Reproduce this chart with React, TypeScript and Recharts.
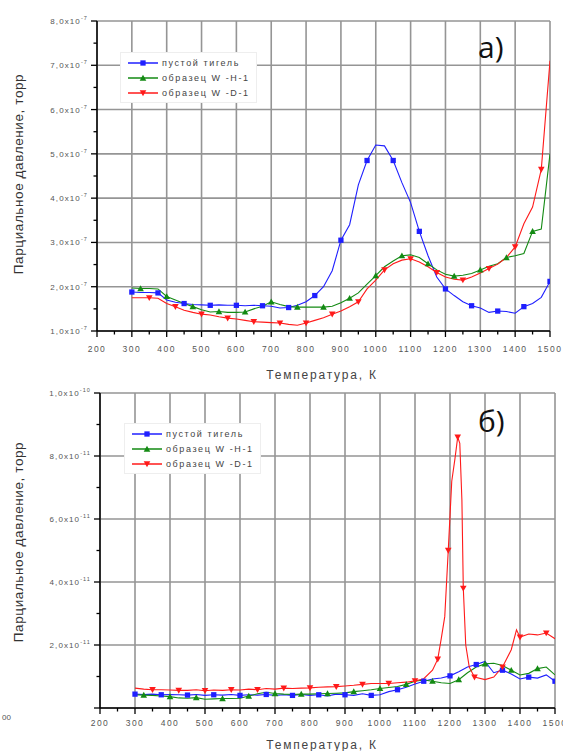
import React from 'react';
import { LineChart, Line, XAxis, YAxis, CartesianGrid, Legend } from 'recharts';

const BLUE = '#1f1fff';
const GREEN = '#138a13';
const RED = '#ff1a1a';
const GRID = '#959595';
const TXT = '#555';
const FONT = '"Liberation Sans", Arial, sans-serif';

const LEGEND_NAMES = ['пустой тигель', 'образец W -H-1', 'образец W -D-1'];

const X_MAJOR = [200, 300, 400, 500, 600, 700, 800, 900, 1000, 1100, 1200, 1300, 1400, 1500];
const X_MINOR = [250, 350, 450, 550, 650, 750, 850, 950, 1050, 1150, 1250, 1350, 1450];

// a) units of 1e-7 torr
const TOP_Y_MAJOR = [1, 2, 3, 4, 5, 6, 7, 8];
const TOP_Y_MINOR = [1.5, 2.5, 3.5, 4.5, 5.5, 6.5, 7.5];

// б) units of 1e-11 torr
const BOT_Y_MAJOR = [0, 2, 4, 6, 8, 10];
const BOT_Y_MINOR = [1, 3, 5, 7, 9];

const topBlue: [number, number][] = [
  [300, 1.88], [325, 1.87], [350, 1.87], [375, 1.86], [400, 1.70], [425, 1.65], [450, 1.62], [475, 1.60],
  [500, 1.59], [525, 1.58], [550, 1.59], [575, 1.58], [600, 1.58], [625, 1.57], [650, 1.58], [675, 1.57],
  [700, 1.56], [725, 1.52], [750, 1.53], [775, 1.58], [800, 1.66], [825, 1.80], [850, 2.00], [875, 2.36],
  [900, 3.05], [925, 3.40], [950, 4.30], [975, 4.85], [1000, 5.20], [1025, 5.18], [1050, 4.85], [1075, 4.35],
  [1100, 3.90], [1125, 3.25], [1150, 2.70], [1175, 2.22], [1200, 1.95], [1225, 1.80], [1250, 1.66], [1275, 1.57],
  [1300, 1.52], [1325, 1.42], [1350, 1.45], [1375, 1.44], [1400, 1.40], [1425, 1.55], [1450, 1.62], [1475, 1.76],
  [1500, 2.12],
];

const topGreen: [number, number][] = [
  [300, 1.97], [325, 1.96], [350, 1.96], [375, 1.95], [400, 1.78], [425, 1.70], [450, 1.62], [475, 1.55],
  [500, 1.48], [525, 1.43], [550, 1.44], [575, 1.42], [600, 1.42], [625, 1.43], [650, 1.50], [675, 1.56],
  [700, 1.66], [725, 1.60], [750, 1.55], [775, 1.54], [800, 1.54], [825, 1.54], [850, 1.54], [875, 1.56],
  [900, 1.64], [925, 1.74], [950, 1.86], [975, 2.06], [1000, 2.25], [1025, 2.45], [1050, 2.58], [1075, 2.70],
  [1100, 2.72], [1125, 2.66], [1150, 2.52], [1175, 2.38], [1200, 2.28], [1225, 2.24], [1250, 2.26], [1275, 2.30],
  [1300, 2.38], [1325, 2.46], [1350, 2.52], [1375, 2.66], [1400, 2.70], [1425, 2.75], [1450, 3.25], [1475, 3.30],
  [1500, 5.00],
];

const topRed: [number, number][] = [
  [300, 1.75], [325, 1.75], [350, 1.75], [375, 1.74], [400, 1.62], [425, 1.55], [450, 1.47], [475, 1.42],
  [500, 1.38], [525, 1.36], [550, 1.32], [575, 1.29], [600, 1.27], [625, 1.24], [650, 1.21], [675, 1.20],
  [700, 1.19], [725, 1.18], [750, 1.15], [775, 1.13], [800, 1.18], [825, 1.24], [850, 1.30], [875, 1.38],
  [900, 1.45], [925, 1.55], [950, 1.66], [975, 1.95], [1000, 2.15], [1025, 2.38], [1050, 2.52], [1075, 2.60],
  [1100, 2.63], [1125, 2.56], [1150, 2.45], [1175, 2.32], [1200, 2.22], [1225, 2.17], [1250, 2.15], [1275, 2.22],
  [1300, 2.31], [1325, 2.41], [1350, 2.51], [1375, 2.66], [1400, 2.90], [1425, 3.42], [1450, 3.80], [1475, 4.65],
  [1500, 7.10],
];

const botBlue: [number, number][] = [
  [300, 0.44], [325, 0.43], [350, 0.44], [375, 0.42], [400, 0.43], [425, 0.42], [450, 0.41], [475, 0.43],
  [500, 0.40], [525, 0.42], [550, 0.41], [575, 0.43], [600, 0.40], [625, 0.42], [650, 0.41], [675, 0.43],
  [700, 0.40], [725, 0.42], [750, 0.40], [775, 0.43], [800, 0.40], [825, 0.42], [850, 0.38], [875, 0.44],
  [900, 0.42], [925, 0.40], [950, 0.45], [975, 0.40], [1000, 0.42], [1025, 0.52], [1050, 0.58], [1075, 0.66],
  [1100, 0.76], [1125, 0.85], [1150, 0.92], [1175, 0.95], [1200, 1.02], [1225, 1.15], [1250, 1.30], [1275, 1.38],
  [1300, 1.48], [1325, 1.12], [1350, 1.20], [1375, 1.08], [1400, 0.92], [1425, 0.98], [1450, 0.95], [1475, 1.05],
  [1500, 0.85],
];

const botGreen: [number, number][] = [
  [300, 0.42], [325, 0.41], [350, 0.40], [375, 0.38], [400, 0.36], [425, 0.32], [450, 0.31], [475, 0.33],
  [500, 0.28], [525, 0.29], [550, 0.30], [575, 0.30], [600, 0.31], [625, 0.38], [650, 0.45], [675, 0.50],
  [700, 0.46], [725, 0.44], [750, 0.43], [775, 0.44], [800, 0.44], [825, 0.45], [850, 0.46], [875, 0.47],
  [900, 0.48], [925, 0.52], [950, 0.55], [975, 0.58], [1000, 0.62], [1025, 0.65], [1050, 0.68], [1075, 0.75],
  [1100, 0.85], [1125, 0.89], [1150, 0.85], [1175, 0.80], [1200, 0.78], [1225, 0.90], [1250, 1.12], [1275, 1.30],
  [1300, 1.40], [1325, 1.42], [1350, 1.35], [1375, 1.20], [1400, 1.05], [1425, 1.10], [1450, 1.25], [1475, 1.30],
  [1500, 1.05],
];

const botRed: [number, number][] = [
  [300, 0.63], [325, 0.60], [350, 0.58], [375, 0.58], [400, 0.57], [425, 0.56], [450, 0.56], [475, 0.58],
  [500, 0.55], [525, 0.57], [550, 0.56], [575, 0.58], [600, 0.57], [625, 0.60], [650, 0.58], [675, 0.62],
  [700, 0.60], [725, 0.63], [750, 0.62], [775, 0.63], [800, 0.64], [825, 0.66], [850, 0.67], [875, 0.68],
  [900, 0.70], [925, 0.72], [950, 0.75], [975, 0.78], [1000, 0.78], [1025, 0.78], [1050, 0.80], [1075, 0.82],
  [1100, 0.86], [1125, 0.93], [1150, 1.20], [1165, 1.55], [1175, 2.20], [1185, 2.90], [1195, 5.00], [1205, 7.20],
  [1214, 7.90], [1222, 8.60], [1228, 8.40], [1234, 6.60], [1238, 3.80], [1245, 2.00], [1255, 1.30], [1270, 0.98],
  [1300, 0.90], [1325, 0.98], [1350, 1.30], [1375, 1.85], [1390, 2.48], [1400, 2.25], [1425, 2.35], [1450, 2.32],
  [1475, 2.38], [1500, 2.20],
];

const toRows = (s: [number, number][]) => s.map(([t, v]) => ({ t, v }));

type Shape = 'square' | 'up' | 'down';

function Marker({ cx, cy, shape, color, size = 3.3 }: { cx: number; cy: number; shape: Shape; color: string; size?: number }) {
  if (shape === 'square') return <rect x={cx - size * 0.8} y={cy - size * 0.8} width={size * 1.6} height={size * 1.6} fill={color} />;
  const s = size;
  if (shape === 'up') return <polygon points={`${cx},${cy - s} ${cx - s},${cy + s * 0.8} ${cx + s},${cy + s * 0.8}`} fill={color} />;
  return <polygon points={`${cx},${cy + s} ${cx - s},${cy - s * 0.8} ${cx + s},${cy - s * 0.8}`} fill={color} />;
}

const mkDot = (shape: Shape, color: string, every: number, offset: number) => (p: any) => {
  const { cx, cy, index } = p;
  if (cx == null || cy == null || index % every !== offset) return <g key={`d${index}`} />;
  return <g key={`d${index}`}><Marker cx={cx} cy={cy} shape={shape} color={color} /></g>;
};

const sup = (exp: string) => (
  <tspan dy={-4} fontSize={5.5}>{exp}</tspan>
);

const mkYTick = (majors: number[], fmt: (v: number) => [string, string] | null) => (p: any) => {
  const { x, y, payload } = p;
  const v = payload.value;
  const major = majors.includes(v);
  const lab = major ? fmt(v) : null;
  return (
    <g>
      <line x1={x} x2={x - (major ? 6 : 3.5)} y1={y} y2={y} stroke="#000" strokeWidth={1.3} />
      {lab && (
        <text x={x - 9} y={y + 3} textAnchor="end" fill={TXT} fontSize={8} fontFamily={FONT} letterSpacing={1.1}>
          {lab[0]}{sup(lab[1])}
        </text>
      )}
    </g>
  );
};

const mkXTick = (gap: number) => (p: any) => {
  const { x, y, payload } = p;
  const major = X_MAJOR.includes(payload.value);
  return (
    <g>
      <line x1={x} x2={x} y1={y} y2={y + (major ? 6 : 3.5)} stroke="#000" strokeWidth={1.3} />
      {major && (
        <text x={x} y={y + gap} textAnchor="middle" fill={TXT} fontSize={8.5} fontFamily={FONT} letterSpacing={1.5}>
          {payload.value}
        </text>
      )}
    </g>
  );
};

const topFmt = (v: number): [string, string] => [`${v},0x10`, '-7'];
const botFmt = (v: number): [string, string] | null =>
  v === 0 ? null : v === 10 ? ['1,0x10', '-10'] : [`${v},0x10`, '-11'];

const LegendBox = ({ left, top }: { left: number; top: number }) => {
  const items: [string, string, Shape][] = [
    [LEGEND_NAMES[0], BLUE, 'square'],
    [LEGEND_NAMES[1], GREEN, 'up'],
    [LEGEND_NAMES[2], RED, 'down'],
  ];
  return (
    <div style={{ position: 'absolute', left, top, background: '#fff', border: '1px solid #eee', padding: '2px 6px 2px 6px' }}>
      {items.map(([name, color, shape]) => (
        <div key={name} style={{ display: 'flex', alignItems: 'center', height: 15 }}>
          <svg width={32} height={10}>
            <line x1={1} x2={31} y1={5} y2={5} stroke={color} strokeWidth={1.5} />
            <Marker cx={16} cy={5} shape={shape} color={color} />
          </svg>
          <span style={{ fontFamily: FONT, fontSize: 9, color: '#444', letterSpacing: 1.6, marginLeft: 3, whiteSpace: 'nowrap' }}>{name}</span>
        </div>
      ))}
    </div>
  );
};

function Panel(props: {
  top: number; height: number; marginTop: number; marginRight: number; yWidth: number; xHeight: number;
  yDomain: [number, number]; yMajor: number[]; yMinor: number[];
  fmt: (v: number) => [string, string] | null; xGap: number;
  blue: [number, number][]; green: [number, number][]; red: [number, number][];
  every: number; legend: { left: number; top: number };
}) {
  const yTicks = [...props.yMajor, ...props.yMinor].sort((a, b) => a - b);
  const xTicks = [...X_MAJOR, ...X_MINOR].sort((a, b) => a - b);
  return (
    <div style={{ position: 'absolute', left: 0, top: props.top }}>
      <LineChart width={563} height={props.height}
        margin={{ top: props.marginTop, right: props.marginRight, left: 0, bottom: 0 }}>
        <CartesianGrid stroke={GRID} strokeWidth={1.6}
          horizontalValues={props.yMajor} verticalValues={X_MAJOR} />
        <XAxis dataKey="t" type="number" domain={[200, 1500]} ticks={xTicks} interval={0}
          height={props.xHeight} tickSize={0} tickMargin={0} allowDataOverflow
          axisLine={{ stroke: '#000', strokeWidth: 1.5 }} tick={mkXTick(props.xGap)} />
        <YAxis dataKey="v" type="number" domain={props.yDomain} ticks={yTicks} interval={0}
          width={props.yWidth} tickSize={0} tickMargin={0} allowDataOverflow
          axisLine={{ stroke: '#000', strokeWidth: 1.5 }} tick={mkYTick(props.yMajor, props.fmt)} />
        <Legend content={() => <LegendBox left={props.legend.left} top={props.legend.top} />}
          wrapperStyle={{ position: 'absolute', left: 0, top: 0, width: 0, height: 0 }} />
        <Line data={toRows(props.blue)} dataKey="v" name={LEGEND_NAMES[0]} stroke={BLUE} strokeWidth={1.1}
          dot={mkDot('square', BLUE, props.every, 0)} isAnimationActive={false} type="linear" />
        <Line data={toRows(props.green)} dataKey="v" name={LEGEND_NAMES[1]} stroke={GREEN} strokeWidth={1.1}
          dot={mkDot('up', GREEN, props.every, 1)} isAnimationActive={false} type="linear" />
        <Line data={toRows(props.red)} dataKey="v" name={LEGEND_NAMES[2]} stroke={RED} strokeWidth={1.1}
          dot={mkDot('down', RED, props.every, 2)} isAnimationActive={false} type="linear" />
      </LineChart>
    </div>
  );
}

export default function App() {
  return (
    <div style={{ position: 'absolute', left: 0, top: 0, width: 563, height: 751, background: '#fff', overflow: 'hidden' }}>
      <Panel top={0} height={380} marginTop={21} marginRight={13} yWidth={97} xHeight={49}
        yDomain={[1, 8]} yMajor={TOP_Y_MAJOR} yMinor={TOP_Y_MINOR} fmt={topFmt} xGap={21}
        blue={topBlue} green={topGreen} red={topRed} every={3} legend={{ left: 120, top: 52 }} />
      <Panel top={380} height={371} marginTop={13} marginRight={8} yWidth={100} xHeight={43}
        yDomain={[0, 10]} yMajor={BOT_Y_MAJOR} yMinor={BOT_Y_MINOR} fmt={botFmt} xGap={18}
        blue={botBlue} green={botGreen} red={botRed} every={3} legend={{ left: 124, top: 43 }} />
      <svg width={563} height={751} style={{ position: 'absolute', left: 0, top: 0, pointerEvents: 'none' }}>
        <text transform="translate(23,174) rotate(-90)" textAnchor="middle" fontFamily={FONT} fontSize={13.5} fill="#333" letterSpacing={0.6}>
          Парциальное давление, торр
        </text>
        <text transform="translate(23,542) rotate(-90)" textAnchor="middle" fontFamily={FONT} fontSize={13.5} fill="#333" letterSpacing={0.6}>
          Парциальное давление, торр
        </text>
        <text x={322} y={379} textAnchor="middle" fontFamily={FONT} fontSize={12} fill="#444" letterSpacing={1.8}>Температура, К</text>
        <text x={322} y={749} textAnchor="middle" fontFamily={FONT} fontSize={12} fill="#444" letterSpacing={1.8}>Температура, К</text>
        <text x={478} y={58} fontFamily='"Open Sans", sans-serif' fontSize={30} fill="#111">а)</text>
        <text x={478} y={432} fontFamily='"Open Sans", sans-serif' fontSize={30} fill="#111">б)</text>
        <text x={2} y={720} fontFamily={FONT} fontSize={8} fill={TXT}>00</text>
      </svg>
    </div>
  );
}
